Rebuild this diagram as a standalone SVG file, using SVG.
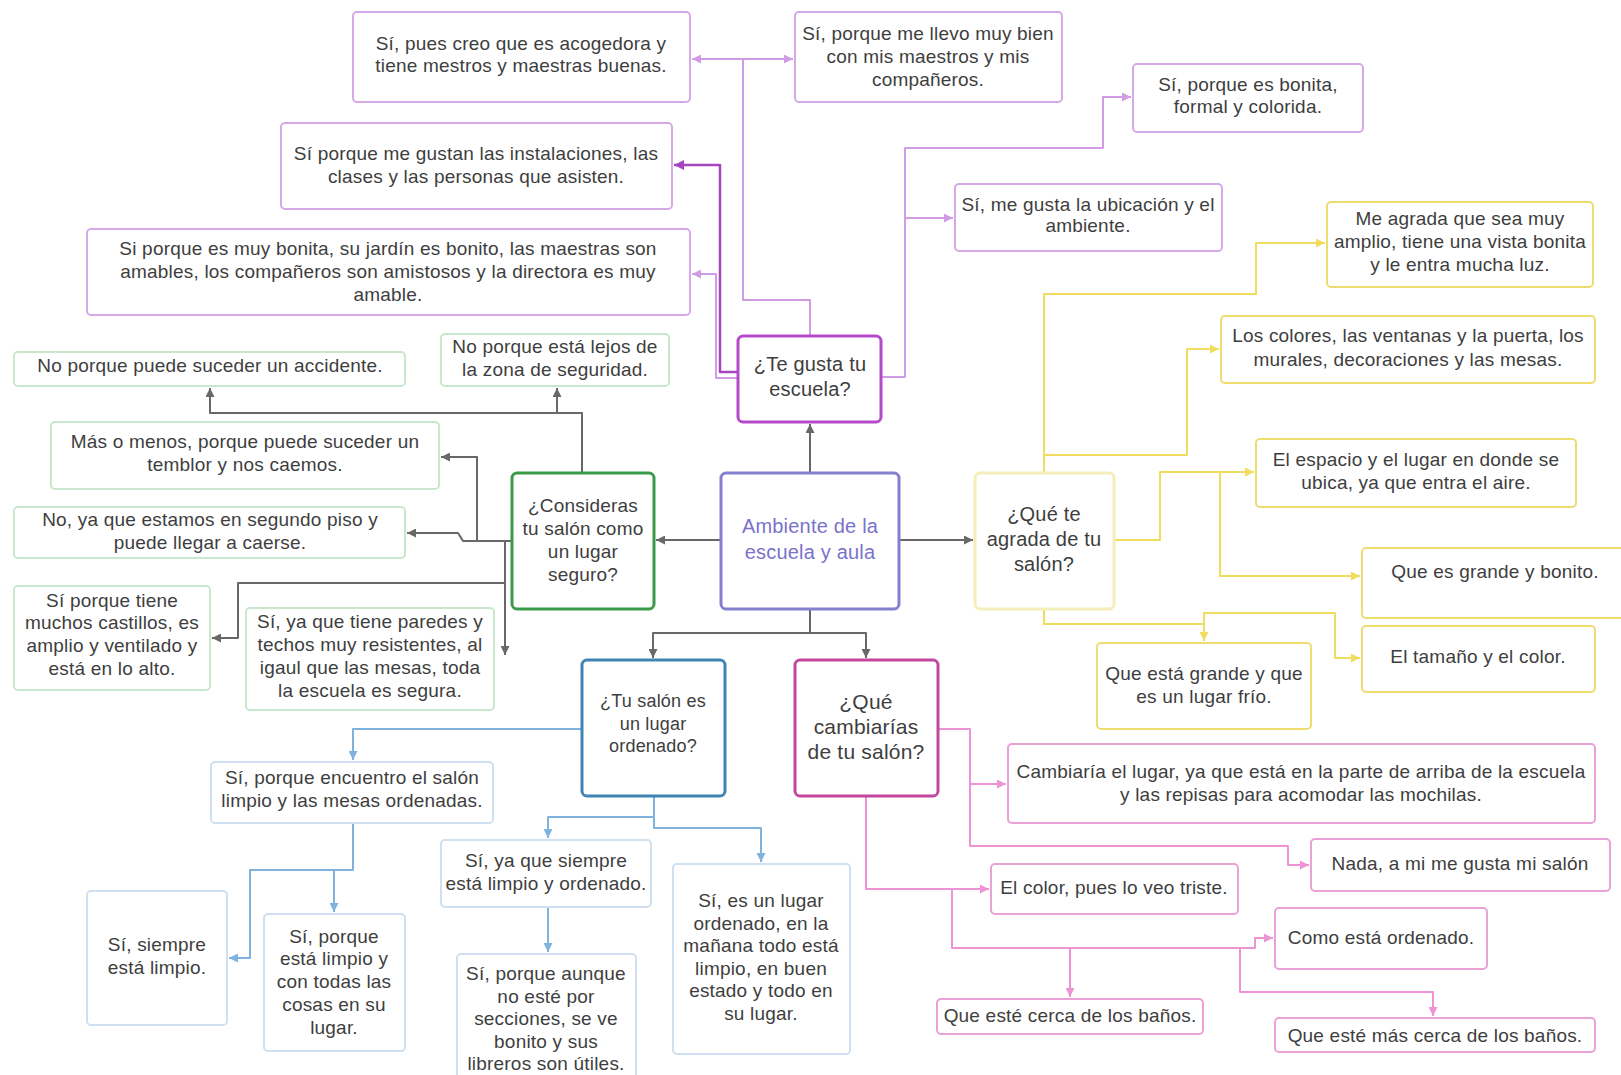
<svg xmlns="http://www.w3.org/2000/svg" width="1621" height="1075" viewBox="0 0 1621 1075">
<defs>
<style>
.t{font-family:"Liberation Sans",Arial,sans-serif;font-size:19px;fill:#3e3e3e;text-anchor:middle;letter-spacing:0.2px}
.q20{font-size:20px}
.q21{font-size:21px}
.q18{font-size:18px}
.leaf{fill:#fff;stroke-width:2}
.qn{fill:#fff;stroke-width:3}
.pu{stroke:#d5a8e7}
.gr{stroke:#c9e7cc}
.ye{stroke:#eedd6e}
.bl{stroke:#d0e0f1}
.pk{stroke:#e9a1d7}
.c{fill:none;stroke-width:2;stroke-linejoin:round}
.cg{stroke:#686868}
.cp{stroke:#d09ce4}
.cpd{stroke:#a646bf;stroke-width:2.5}
.cy{stroke:#f0dc5e}
.cb{stroke:#80b2de}
.ck{stroke:#ee93d3}
</style>
<marker id="ag" viewBox="0 0 10 10" refX="10" refY="5" markerWidth="12" markerHeight="9" markerUnits="userSpaceOnUse" orient="auto"><path d="M0,0L10,5L0,10z" fill="#686868"/></marker>
<marker id="ap" viewBox="0 0 10 10" refX="10" refY="5" markerWidth="12" markerHeight="9" markerUnits="userSpaceOnUse" orient="auto"><path d="M0,0L10,5L0,10z" fill="#d09ce4"/></marker>
<marker id="apd" viewBox="0 0 10 10" refX="10" refY="5" markerWidth="13" markerHeight="10" markerUnits="userSpaceOnUse" orient="auto"><path d="M0,0L10,5L0,10z" fill="#a646bf"/></marker>
<marker id="ay" viewBox="0 0 10 10" refX="10" refY="5" markerWidth="12" markerHeight="9" markerUnits="userSpaceOnUse" orient="auto"><path d="M0,0L10,5L0,10z" fill="#f0dc5e"/></marker>
<marker id="ab" viewBox="0 0 10 10" refX="10" refY="5" markerWidth="12" markerHeight="9" markerUnits="userSpaceOnUse" orient="auto"><path d="M0,0L10,5L0,10z" fill="#80b2de"/></marker>
<marker id="ak" viewBox="0 0 10 10" refX="10" refY="5" markerWidth="12" markerHeight="9" markerUnits="userSpaceOnUse" orient="auto"><path d="M0,0L10,5L0,10z" fill="#ee93d3"/></marker>
</defs>
<rect width="1621" height="1075" fill="#fff"/>

<g id="connectors">
<polyline class="c cg" points="810,473 810,424" marker-end="url(#ag)"/>
<polyline class="c cg" points="721,540 656,540" marker-end="url(#ag)"/>
<polyline class="c cg" points="899,540 973,540" marker-end="url(#ag)"/>
<polyline class="c cg" points="810,609 810,633 653,633 653,658" marker-end="url(#ag)"/>
<polyline class="c cg" points="810,633 866,633 866,658" marker-end="url(#ag)"/>
<polyline class="c cg" points="582,473 582,413 210,413 210,388" marker-end="url(#ag)"/>
<polyline class="c cg" points="557,413 557,388" marker-end="url(#ag)"/>
<polyline class="c cg" points="512,541 463,541 458,533 407,533" marker-end="url(#ag)"/>
<polyline class="c cg" points="477,541 477,457 441,457" marker-end="url(#ag)"/>
<polyline class="c cg" points="505,541 505,655" marker-end="url(#ag)"/>
<polyline class="c cg" points="505,583 238,583 238,638 212,638" marker-end="url(#ag)"/>

<polyline class="c cp" points="810,336 810,300 743,300 743,59 692,59" marker-end="url(#ap)"/>
<polyline class="c cp" points="743,59 793,59" marker-end="url(#ap)"/>
<polyline class="c cpd" points="738,372 720,372 720,165 674,165" marker-end="url(#apd)"/>
<polyline class="c cp" points="738,378 716,378 716,274 692,274" marker-end="url(#ap)"/>
<polyline class="c cp" points="881,377 905,377 905,148 1103,148 1103,97 1131,97" marker-end="url(#ap)"/>
<polyline class="c cp" points="905,218 953,218" marker-end="url(#ap)"/>

<polyline class="c cy" points="1044,473 1044,294 1256,294 1256,243 1325,243" marker-end="url(#ay)"/>
<polyline class="c cy" points="1044,455 1187,455 1187,349 1219,349" marker-end="url(#ay)"/>
<polyline class="c cy" points="1114,540 1160,540 1160,472 1254,472" marker-end="url(#ay)"/>
<polyline class="c cy" points="1220,472 1220,576 1360,576" marker-end="url(#ay)"/>
<polyline class="c cy" points="1044,609 1044,624 1204,624 1204,641" marker-end="url(#ay)"/>
<polyline class="c cy" points="1204,624 1204,613 1335,613 1335,658 1360,658" marker-end="url(#ay)"/>

<polyline class="c cb" points="582,729 353,729 353,760" marker-end="url(#ab)"/>
<polyline class="c cb" points="353,823 353,870 250,870 250,958 229,958" marker-end="url(#ab)"/>
<polyline class="c cb" points="334,870 334,912" marker-end="url(#ab)"/>
<polyline class="c cb" points="654,796 654,817 548,817 548,838" marker-end="url(#ab)"/>
<polyline class="c cb" points="654,817 654,828 761,828 761,862" marker-end="url(#ab)"/>
<polyline class="c cb" points="548,907 548,952" marker-end="url(#ab)"/>

<polyline class="c ck" points="938,729 970,729 970,846 1288,846 1288,865 1309,865" marker-end="url(#ak)"/>
<polyline class="c ck" points="970,784 1006,784" marker-end="url(#ak)"/>
<polyline class="c ck" points="866,796 866,889 989,889" marker-end="url(#ak)"/>
<polyline class="c ck" points="952,889 952,948 1255,948 1255,938 1273,938" marker-end="url(#ak)"/>
<polyline class="c ck" points="1070,948 1070,997" marker-end="url(#ak)"/>
<polyline class="c ck" points="1240,948 1240,992 1433,992 1433,1016" marker-end="url(#ak)"/>
</g>

<g id="central">
<rect class="qn" x="721" y="473" width="178" height="136" rx="5" stroke="#857fcf"/>
<text class="t q20" style="fill:#7a72cc"><tspan x="810" y="533">Ambiente de la</tspan><tspan x="810" y="559">escuela y aula</tspan></text>
</g>
<g id="q-gusta">
<rect class="qn" x="738" y="336" width="143" height="86" rx="5" stroke="#b449c9"/>
<text class="t q20"><tspan x="810" y="371">¿Te gusta tu</tspan><tspan x="810" y="396">escuela?</tspan></text>
</g>
<g id="q-seguro">
<rect class="qn" x="512" y="473" width="142" height="136" rx="5" stroke="#3b9a48"/>
<text class="t"><tspan x="583" y="512">¿Consideras</tspan><tspan x="583" y="535">tu salón como</tspan><tspan x="583" y="558">un lugar</tspan><tspan x="583" y="581">seguro?</tspan></text>
</g>
<g id="q-agrada">
<rect class="qn" x="975" y="473" width="139" height="136" rx="5" stroke="#f4eebb" stroke-width="2"/>
<text class="t q20"><tspan x="1044" y="521">¿Qué te</tspan><tspan x="1044" y="546">agrada de tu</tspan><tspan x="1044" y="571">salón?</tspan></text>
</g>
<g id="q-ordenado">
<rect class="qn" x="582" y="660" width="143" height="136" rx="5" stroke="#3f84b5"/>
<text class="t q18"><tspan x="653" y="707">¿Tu salón es</tspan><tspan x="653" y="730">un lugar</tspan><tspan x="653" y="752">ordenado?</tspan></text>
</g>
<g id="q-cambiarias">
<rect class="qn" x="795" y="660" width="143" height="136" rx="5" stroke="#c4479f"/>
<text class="t q21"><tspan x="866" y="709">¿Qué</tspan><tspan x="866" y="734">cambiarías</tspan><tspan x="866" y="759">de tu salón?</tspan></text>
</g>

<g id="a1"><rect class="leaf pu" x="353" y="12" width="337" height="90" rx="4"/>
<text class="t"><tspan x="521" y="50">Sí, pues creo que es acogedora y</tspan><tspan x="521" y="72">tiene mestros y maestras buenas.</tspan></text></g>
<g id="a2"><rect class="leaf pu" x="281" y="123" width="391" height="86" rx="4"/>
<text class="t"><tspan x="476" y="160">Sí porque me gustan las instalaciones, las</tspan><tspan x="476" y="183">clases y las personas que asisten.</tspan></text></g>
<g id="a3"><rect class="leaf pu" x="87" y="229" width="603" height="86" rx="4"/>
<text class="t"><tspan x="388" y="255">Si porque es muy bonita, su jardín es bonito, las maestras son</tspan><tspan x="388" y="278">amables, los compañeros son amistosos y la directora es muy</tspan><tspan x="388" y="301">amable.</tspan></text></g>
<g id="a4"><rect class="leaf pu" x="795" y="12" width="267" height="90" rx="4"/>
<text class="t"><tspan x="928" y="40">Sí, porque me llevo muy bien</tspan><tspan x="928" y="63">con mis maestros y mis</tspan><tspan x="928" y="86">compañeros.</tspan></text></g>
<g id="a5"><rect class="leaf pu" x="955" y="184" width="267" height="67" rx="4"/>
<text class="t"><tspan x="1088" y="211">Sí, me gusta la ubicación y el</tspan><tspan x="1088" y="232">ambiente.</tspan></text></g>
<g id="a6"><rect class="leaf pu" x="1133" y="64" width="230" height="68" rx="4"/>
<text class="t"><tspan x="1248" y="91">Sí, porque es bonita,</tspan><tspan x="1248" y="113">formal y colorida.</tspan></text></g>

<g id="g1"><rect class="leaf gr" x="14" y="352" width="391" height="34" rx="4"/>
<text class="t" x="210" y="372">No porque puede suceder un accidente.</text></g>
<g id="g2"><rect class="leaf gr" x="441" y="334" width="228" height="52" rx="4"/>
<text class="t"><tspan x="555" y="353">No porque está lejos de</tspan><tspan x="555" y="376">la zona de seguridad.</tspan></text></g>
<g id="g3"><rect class="leaf gr" x="51" y="422" width="388" height="67" rx="4"/>
<text class="t"><tspan x="245" y="448">Más o menos, porque puede suceder un</tspan><tspan x="245" y="471">temblor y nos caemos.</tspan></text></g>
<g id="g4"><rect class="leaf gr" x="14" y="507" width="391" height="51" rx="4"/>
<text class="t"><tspan x="210" y="526">No, ya que estamos en segundo piso y</tspan><tspan x="210" y="549">puede llegar a caerse.</tspan></text></g>
<g id="g5"><rect class="leaf gr" x="14" y="586" width="196" height="104" rx="4"/>
<text class="t"><tspan x="112" y="607">Sí porque tiene</tspan><tspan x="112" y="629">muchos castillos, es</tspan><tspan x="112" y="652">amplio y ventilado y</tspan><tspan x="112" y="675">está en lo alto.</tspan></text></g>
<g id="g6"><rect class="leaf gr" x="246" y="608" width="248" height="102" rx="4"/>
<text class="t"><tspan x="370" y="628">Sí, ya que tiene paredes y</tspan><tspan x="370" y="651">techos muy resistentes, al</tspan><tspan x="370" y="674">igaul que las mesas, toda</tspan><tspan x="370" y="697">la escuela es segura.</tspan></text></g>

<g id="y1"><rect class="leaf ye" x="1327" y="202" width="266" height="85" rx="4"/>
<text class="t"><tspan x="1460" y="225">Me agrada que sea muy</tspan><tspan x="1460" y="248">amplio, tiene una vista bonita</tspan><tspan x="1460" y="271">y le entra mucha luz.</tspan></text></g>
<g id="y2"><rect class="leaf ye" x="1221" y="316" width="374" height="67" rx="4"/>
<text class="t"><tspan x="1408" y="342">Los colores, las ventanas y la puerta, los</tspan><tspan x="1408" y="366">murales, decoraciones y las mesas.</tspan></text></g>
<g id="y3"><rect class="leaf ye" x="1256" y="439" width="320" height="68" rx="4"/>
<text class="t"><tspan x="1416" y="466">El espacio y el lugar en donde se</tspan><tspan x="1416" y="489">ubica, ya que entra el aire.</tspan></text></g>
<g id="y4"><rect class="leaf ye" x="1362" y="548" width="265" height="70" rx="4"/>
<text class="t" x="1495" y="578">Que es grande y bonito.</text></g>
<g id="y5"><rect class="leaf ye" x="1362" y="626" width="233" height="66" rx="4"/>
<text class="t" x="1478" y="663">El tamaño y el color.</text></g>
<g id="y6"><rect class="leaf ye" x="1097" y="643" width="214" height="86" rx="4"/>
<text class="t"><tspan x="1204" y="680">Que está grande y que</tspan><tspan x="1204" y="703">es un lugar frío.</tspan></text></g>

<g id="b1"><rect class="leaf bl" x="211" y="762" width="282" height="61" rx="4"/>
<text class="t"><tspan x="352" y="784">Sí, porque encuentro el salón</tspan><tspan x="352" y="807">limpio y las mesas ordenadas.</tspan></text></g>
<g id="b2"><rect class="leaf bl" x="87" y="891" width="140" height="134" rx="4"/>
<text class="t"><tspan x="157" y="951">Sí, siempre</tspan><tspan x="157" y="974">está limpio.</tspan></text></g>
<g id="b3"><rect class="leaf bl" x="264" y="914" width="141" height="137" rx="4"/>
<text class="t"><tspan x="334" y="943">Sí, porque</tspan><tspan x="334" y="965">está limpio y</tspan><tspan x="334" y="988">con todas las</tspan><tspan x="334" y="1011">cosas en su</tspan><tspan x="334" y="1034">lugar.</tspan></text></g>
<g id="b4"><rect class="leaf bl" x="441" y="840" width="210" height="67" rx="4"/>
<text class="t"><tspan x="546" y="867">Sí, ya que siempre</tspan><tspan x="546" y="890">está limpio y ordenado.</tspan></text></g>
<g id="b5"><rect class="leaf bl" x="457" y="954" width="179" height="125" rx="4"/>
<text class="t"><tspan x="546" y="980">Sí, porque aunque</tspan><tspan x="546" y="1003">no esté por</tspan><tspan x="546" y="1025">secciones, se ve</tspan><tspan x="546" y="1048">bonito y sus</tspan><tspan x="546" y="1070">libreros son útiles.</tspan></text></g>
<g id="b6"><rect class="leaf bl" x="673" y="864" width="177" height="190" rx="4"/>
<text class="t"><tspan x="761" y="907">Sí, es un lugar</tspan><tspan x="761" y="930">ordenado, en la</tspan><tspan x="761" y="952">mañana todo está</tspan><tspan x="761" y="975">limpio, en buen</tspan><tspan x="761" y="997">estado y todo en</tspan><tspan x="761" y="1020">su lugar.</tspan></text></g>

<g id="p1"><rect class="leaf pk" x="1008" y="744" width="587" height="79" rx="4"/>
<text class="t"><tspan x="1301" y="778">Cambiaría el lugar, ya que está en la parte de arriba de la escuela</tspan><tspan x="1301" y="801">y las repisas para acomodar las mochilas.</tspan></text></g>
<g id="p2"><rect class="leaf pk" x="1311" y="839" width="299" height="52" rx="4"/>
<text class="t" x="1460" y="870">Nada, a mi me gusta mi salón</text></g>
<g id="p3"><rect class="leaf pk" x="991" y="864" width="247" height="50" rx="4"/>
<text class="t" x="1114" y="894">El color, pues lo veo triste.</text></g>
<g id="p4"><rect class="leaf pk" x="1275" y="908" width="212" height="61" rx="4"/>
<text class="t" x="1381" y="944">Como está ordenado.</text></g>
<g id="p5"><rect class="leaf pk" x="937" y="999" width="266" height="35" rx="4"/>
<text class="t" x="1070" y="1022">Que esté cerca de los baños.</text></g>
<g id="p6"><rect class="leaf pk" x="1275" y="1018" width="320" height="34" rx="4"/>
<text class="t" x="1435" y="1042">Que esté más cerca de los baños.</text></g>
</svg>
